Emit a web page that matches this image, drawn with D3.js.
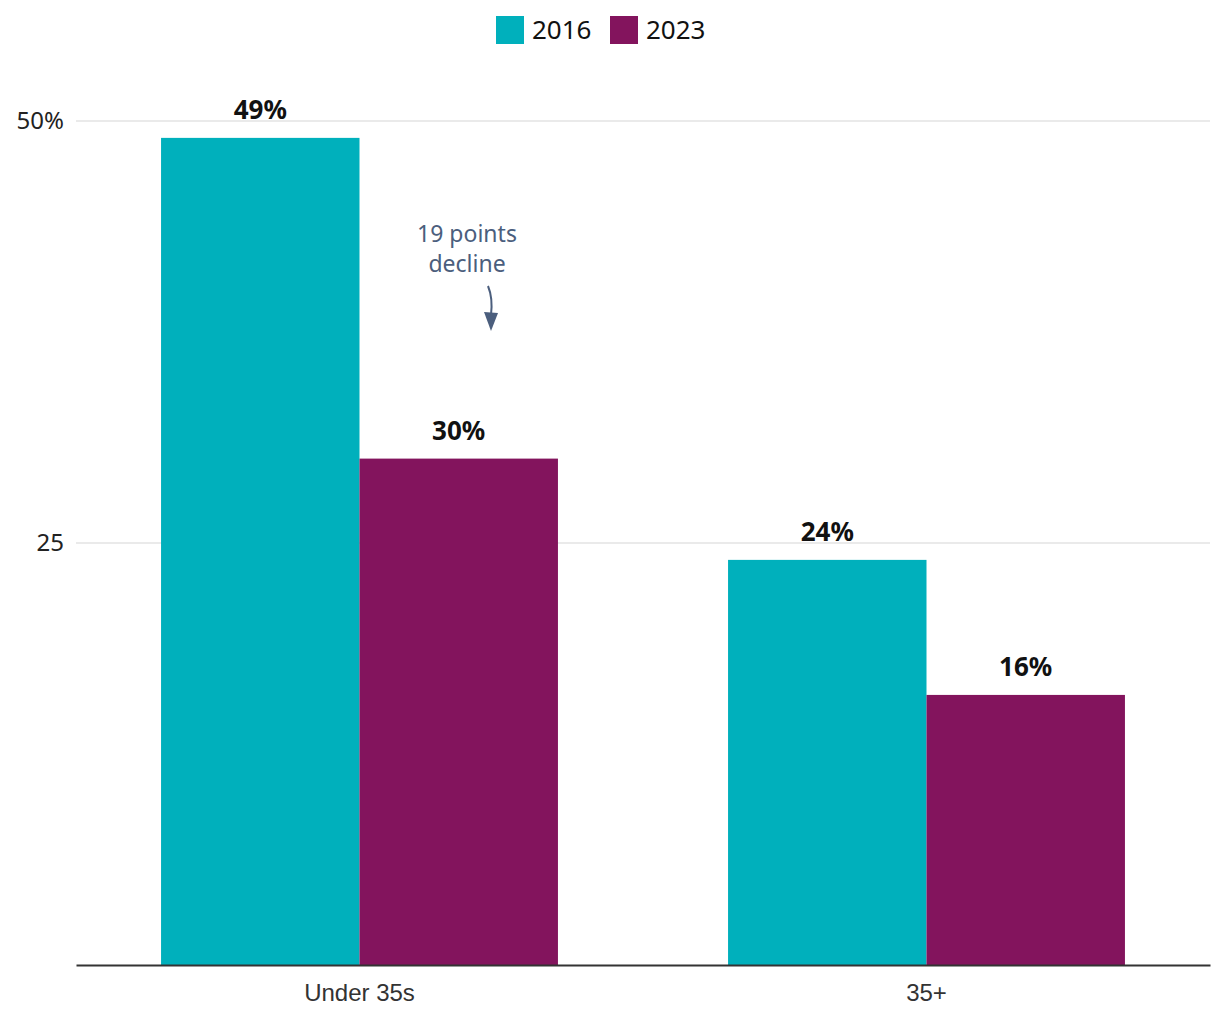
<!DOCTYPE html>
<html>
<head>
<meta charset="utf-8">
<script src="https://cdn.jsdelivr.net/npm/d3@7"></script>
<style>
  body { margin: 0; background: #fff; }
  svg { font-family: "Noto Sans", "Open Sans", sans-serif; }
</style>
</head>
<body>
<script>
var categories = ["Under 35s", "35+"];
var seriesNames = ["2016", "2023"];
var values2016 = [49, 24];
var values2023 = [30, 16];
var yTicks = [25, 50];
var colors = ["#00b0bc", "#83145d"];

var W = 1220, H = 1020;
var margin = {top: 121, right: 10, bottom: 55, left: 76};

var svg = d3.select("body").append("svg").attr("width", W).attr("height", H);

var x = d3.scaleBand().domain(categories).range([margin.left, W - margin.right]).paddingInner(0.3).paddingOuter(0.15);
var xs = d3.scaleBand().domain(seriesNames).range([0, x.bandwidth()]);
// 50 at y=121, 0 at y=965
var y = d3.scaleLinear().domain([0, 50]).range([965, 121]);

// gridlines
svg.append("g").selectAll("line").data(yTicks).join("line")
    .attr("x1", margin.left).attr("x2", W - margin.right)
    .attr("y1", function(d) { return y(d); }).attr("y2", function(d) { return y(d); })
    .attr("stroke", "#e3e3e3").attr("stroke-width", 1.5);

// y tick labels
svg.append("g").selectAll("text").data(yTicks).join("text")
    .attr("x", 64).attr("y", function(d) { return y(d); }).attr("dy", "0.35em")
    .attr("text-anchor", "end").attr("font-size", 24).attr("fill", "#222")
    .text(function(d) { return d == 50 ? d + "%" : d; });

var rows = categories.map(function(c, i) {
    return {cat: c, vals: [{s: "2016", v: values2016[i]}, {s: "2023", v: values2023[i]}]};
});

var groups = svg.append("g").selectAll("g").data(rows).join("g")
    .attr("transform", function(d) { return "translate(" + x(d.cat) + ",0)"; });

groups.selectAll("rect").data(function(d) { return d.vals; }).join("rect")
    .attr("x", function(d) { return xs(d.s); })
    .attr("width", xs.bandwidth())
    .attr("y", function(d) { return y(d.v); })
    .attr("height", function(d) { return y(0) - y(d.v); })
    .attr("fill", function(d, i) { return colors[i]; });

groups.selectAll("text").data(function(d) { return d.vals; }).join("text")
    .attr("x", function(d) { return xs(d.s) + xs.bandwidth() / 2; })
    .attr("y", function(d) { return y(d.v) - 19; })
    .attr("text-anchor", "middle").attr("font-size", 26).attr("font-weight", "bold").attr("fill", "#111")
    .text(function(d) { return d.v + "%"; });

// x axis
var xAxis = svg.append("g").attr("transform", "translate(0," + y(0) + ")")
    .call(d3.axisBottom(x).tickSize(0).tickPadding(19));
xAxis.select(".domain").attr("stroke", "#333").attr("stroke-width", 2);
xAxis.selectAll("text").attr("font-size", 24).attr("fill", "#333").attr("font-family", null);

// legend
var legend = svg.append("g");
var legX = [496, 610];
seriesNames.forEach(function(s, i) {
    legend.append("rect").attr("x", legX[i]).attr("y", 16).attr("width", 28).attr("height", 28).attr("fill", colors[i]);
    legend.append("text").attr("x", legX[i] + 36).attr("y", 30).attr("dy", "0.35em")
        .attr("font-size", 26).attr("fill", "#111").text(s);
});

// annotation
var ann = svg.append("g").attr("fill", "#4b5e7d").attr("font-size", 23).attr("text-anchor", "middle");
ann.append("text").attr("x", 467).attr("y", 242).text("19 points");
ann.append("text").attr("x", 467).attr("y", 272).text("decline");
svg.append("path").attr("d", "M488,286 Q493,298 491,315")
    .attr("fill", "none").attr("stroke", "#4b5e7d").attr("stroke-width", 2);
svg.append("path").attr("d", "M484,312 L498,313 L491,331 Z").attr("fill", "#4b5e7d");
</script>
</body>
</html>
